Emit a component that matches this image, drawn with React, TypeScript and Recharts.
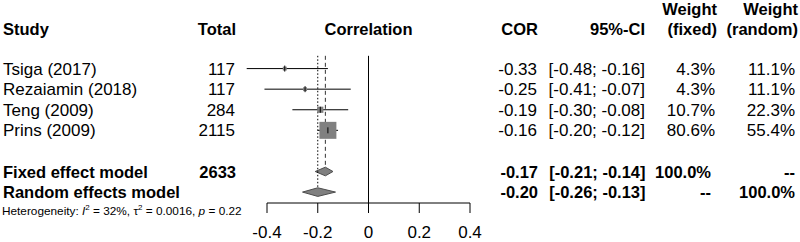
import { ComposedChart, XAxis, YAxis, ZAxis, Scatter, Area, ErrorBar, ReferenceLine } from 'recharts';

const studies = ['Tsiga (2017)', 'Rezaiamin (2018)', 'Teng (2009)', 'Prins (2009)'];
const totals = [117, 117, 284, 2115];
const cor = [-0.33, -0.25, -0.19, -0.16];
const ciLower = [-0.48, -0.41, -0.30, -0.20];
const ciUpper = [-0.16, -0.07, -0.08, -0.12];
const weightFixed = [4.3, 4.3, 10.7, 80.6];
const weightRandom = [11.1, 11.1, 22.3, 55.4];

const modelLabels = ['Fixed effect model', 'Random effects model'];
const modelTotals = ['2633', ''];
const modelCor = [-0.17, -0.20];
const modelLower = [-0.21, -0.26];
const modelUpper = [-0.14, -0.13];
const modelWeightFixed = ['100.0%', '--'];
const modelWeightRandom = ['--', '100.0%'];

const hetI2 = '32%';
const hetTau2 = '0.0016';
const hetP = '0.22';

const xTicks = [-0.4, -0.2, 0, 0.2, 0.4];

const studyRows = [1, 2, 3, 4];
const modelRows = [6, 7];

// layout
const W = 800;
const H = 242;
const TOP = 48;
const AXIS_H = 39;
const Y_MAX = 7.53;
const HALF = 0.21;
const font = '"Liberation Sans", Arial, sans-serif';
const rowY = (r: number) => TOP + (r * (H - TOP - AXIS_H)) / Y_MAX;

const studyData = studies.map((s, i) => ({
  name: s,
  x: cor[i],
  r: studyRows[i],
  w: weightFixed[i],
  err: [cor[i] - ciLower[i], ciUpper[i] - cor[i]],
}));

const diamond = (k: number) => [
  { x: modelLower[k], band: [modelRows[k], modelRows[k]] },
  { x: modelCor[k], band: [modelRows[k] - HALF, modelRows[k] + HALF] },
  { x: modelUpper[k], band: [modelRows[k], modelRows[k]] },
];

const fmt = (v: number) => v.toFixed(2);
const ci = (lo: number, hi: number) => `[${fmt(lo)}; ${fmt(hi)}]`;

function TableText() {
  const reg = { fontSize: 17, fontFamily: font, fill: '#000' };
  const bold = { fontSize: 16.5, fontFamily: font, fill: '#000', fontWeight: 700 };
  return (
    <svg width={W} height={H} style={{ position: 'absolute', left: 0, top: 0, pointerEvents: 'none' }}>
      <text x={3} y={35} {...bold}>Study</text>
      <text x={236} y={35} textAnchor="end" {...bold}>Total</text>
      <text x={368.5} y={35} textAnchor="middle" {...bold}>Correlation</text>
      <text x={538} y={35} textAnchor="end" {...bold}>COR</text>
      <text x={645} y={35} textAnchor="end" {...bold}>95%-CI</text>
      <text x={717} y={15} textAnchor="end" {...bold}>Weight</text>
      <text x={717} y={35} textAnchor="end" {...bold}>(fixed)</text>
      <text x={798} y={15} textAnchor="end" {...bold}>Weight</text>
      <text x={798} y={35} textAnchor="end" {...bold}>(random)</text>

      {studies.map((s, i) => {
        const y = rowY(studyRows[i]) + 6;
        return (
          <g key={s}>
            <text x={3} y={y} {...reg}>{s}</text>
            <text x={235} y={y} textAnchor="end" {...reg}>{totals[i]}</text>
            <text x={537} y={y} textAnchor="end" {...reg}>{fmt(cor[i])}</text>
            <text x={645} y={y} textAnchor="end" {...reg}>{ci(ciLower[i], ciUpper[i])}</text>
            <text x={715} y={y} textAnchor="end" {...reg}>{weightFixed[i].toFixed(1)}%</text>
            <text x={795} y={y} textAnchor="end" {...reg}>{weightRandom[i].toFixed(1)}%</text>
          </g>
        );
      })}

      {modelLabels.map((m, k) => {
        const y = rowY(modelRows[k]) + 6;
        return (
          <g key={m}>
            <text x={3} y={y} {...bold}>{m}</text>
            <text x={236} y={y} textAnchor="end" {...bold}>{modelTotals[k]}</text>
            <text x={538} y={y} textAnchor="end" {...bold}>{fmt(modelCor[k])}</text>
            <text x={645.5} y={y} textAnchor="end" {...bold}>{ci(modelLower[k], modelUpper[k])}</text>
            <text x={711} y={y} textAnchor="end" {...bold}>{modelWeightFixed[k]}</text>
            <text x={795} y={y} textAnchor="end" {...bold}>{modelWeightRandom[k]}</text>
          </g>
        );
      })}

      <text x={2} y={215} fontSize={11.8} fontFamily={font} fill="#000">
        Heterogeneity: <tspan fontStyle="italic">I</tspan>
        <tspan dy={-5} fontSize={8}>2</tspan>
        <tspan dy={5}> = {hetI2}, τ</tspan>
        <tspan dy={-5} fontSize={8}>2</tspan>
        <tspan dy={5}> = {hetTau2}, </tspan>
        <tspan fontStyle="italic">p</tspan> = {hetP}
      </text>
    </svg>
  );
}

export default function App() {
  return (
    <div style={{ position: 'absolute', left: 0, top: 0, width: W, height: H, background: '#fff' }}>
      <ComposedChart width={W} height={H} margin={{ top: TOP, right: 330, bottom: 0, left: 267 }}>
        <XAxis
          type="number"
          dataKey="x"
          domain={[-0.4, 0.4]}
          ticks={xTicks}
          interval={0}
          allowDataOverflow
          height={AXIS_H}
          tickSize={10}
          tickMargin={13}
          stroke="#000"
          axisLine={{ stroke: '#000' }}
          tickLine={{ stroke: '#000' }}
          tick={{ fill: '#000', fontSize: 17, fontFamily: font }}
        />
        <YAxis type="number" dataKey="r" domain={[0, Y_MAX]} reversed hide width={0} allowDataOverflow />
        <ZAxis type="number" dataKey="w" domain={[0, Math.max(...weightFixed)]} range={[0, 289]} />

        <ReferenceLine segment={[{ x: 0, y: 0.38 }, { x: 0, y: Y_MAX }]} stroke="#000" strokeWidth={1} />
        <ReferenceLine
          segment={[{ x: modelCor[0], y: 0.38 }, { x: modelCor[0], y: modelRows[0] - HALF }]}
          stroke="#333"
          strokeDasharray="4 3"
        />
        <ReferenceLine
          segment={[{ x: modelCor[1], y: 0.38 }, { x: modelCor[1], y: modelRows[1] - HALF }]}
          stroke="#000"
          strokeDasharray="1.5 2"
        />

        <Scatter data={studyData} shape="square" fill="#808080" isAnimationActive={false} />
        <Scatter
          data={studyData}
          isAnimationActive={false}
          shape={(p: any) => <line x1={p.cx} x2={p.cx} y1={p.cy - 3} y2={p.cy + 3} stroke="#000" />}
        >
          <ErrorBar dataKey="err" direction="x" width={0} stroke="#000" strokeWidth={1} />
        </Scatter>

        {modelRows.map((r, k) => (
          <Area
            key={r}
            data={diamond(k)}
            dataKey="band"
            type="linear"
            fill="#808080"
            fillOpacity={1}
            stroke="#4d4d4d"
            strokeWidth={1}
            dot={false}
            activeDot={false}
            isAnimationActive={false}
          />
        ))}
      </ComposedChart>
      <TableText />
    </div>
  );
}
